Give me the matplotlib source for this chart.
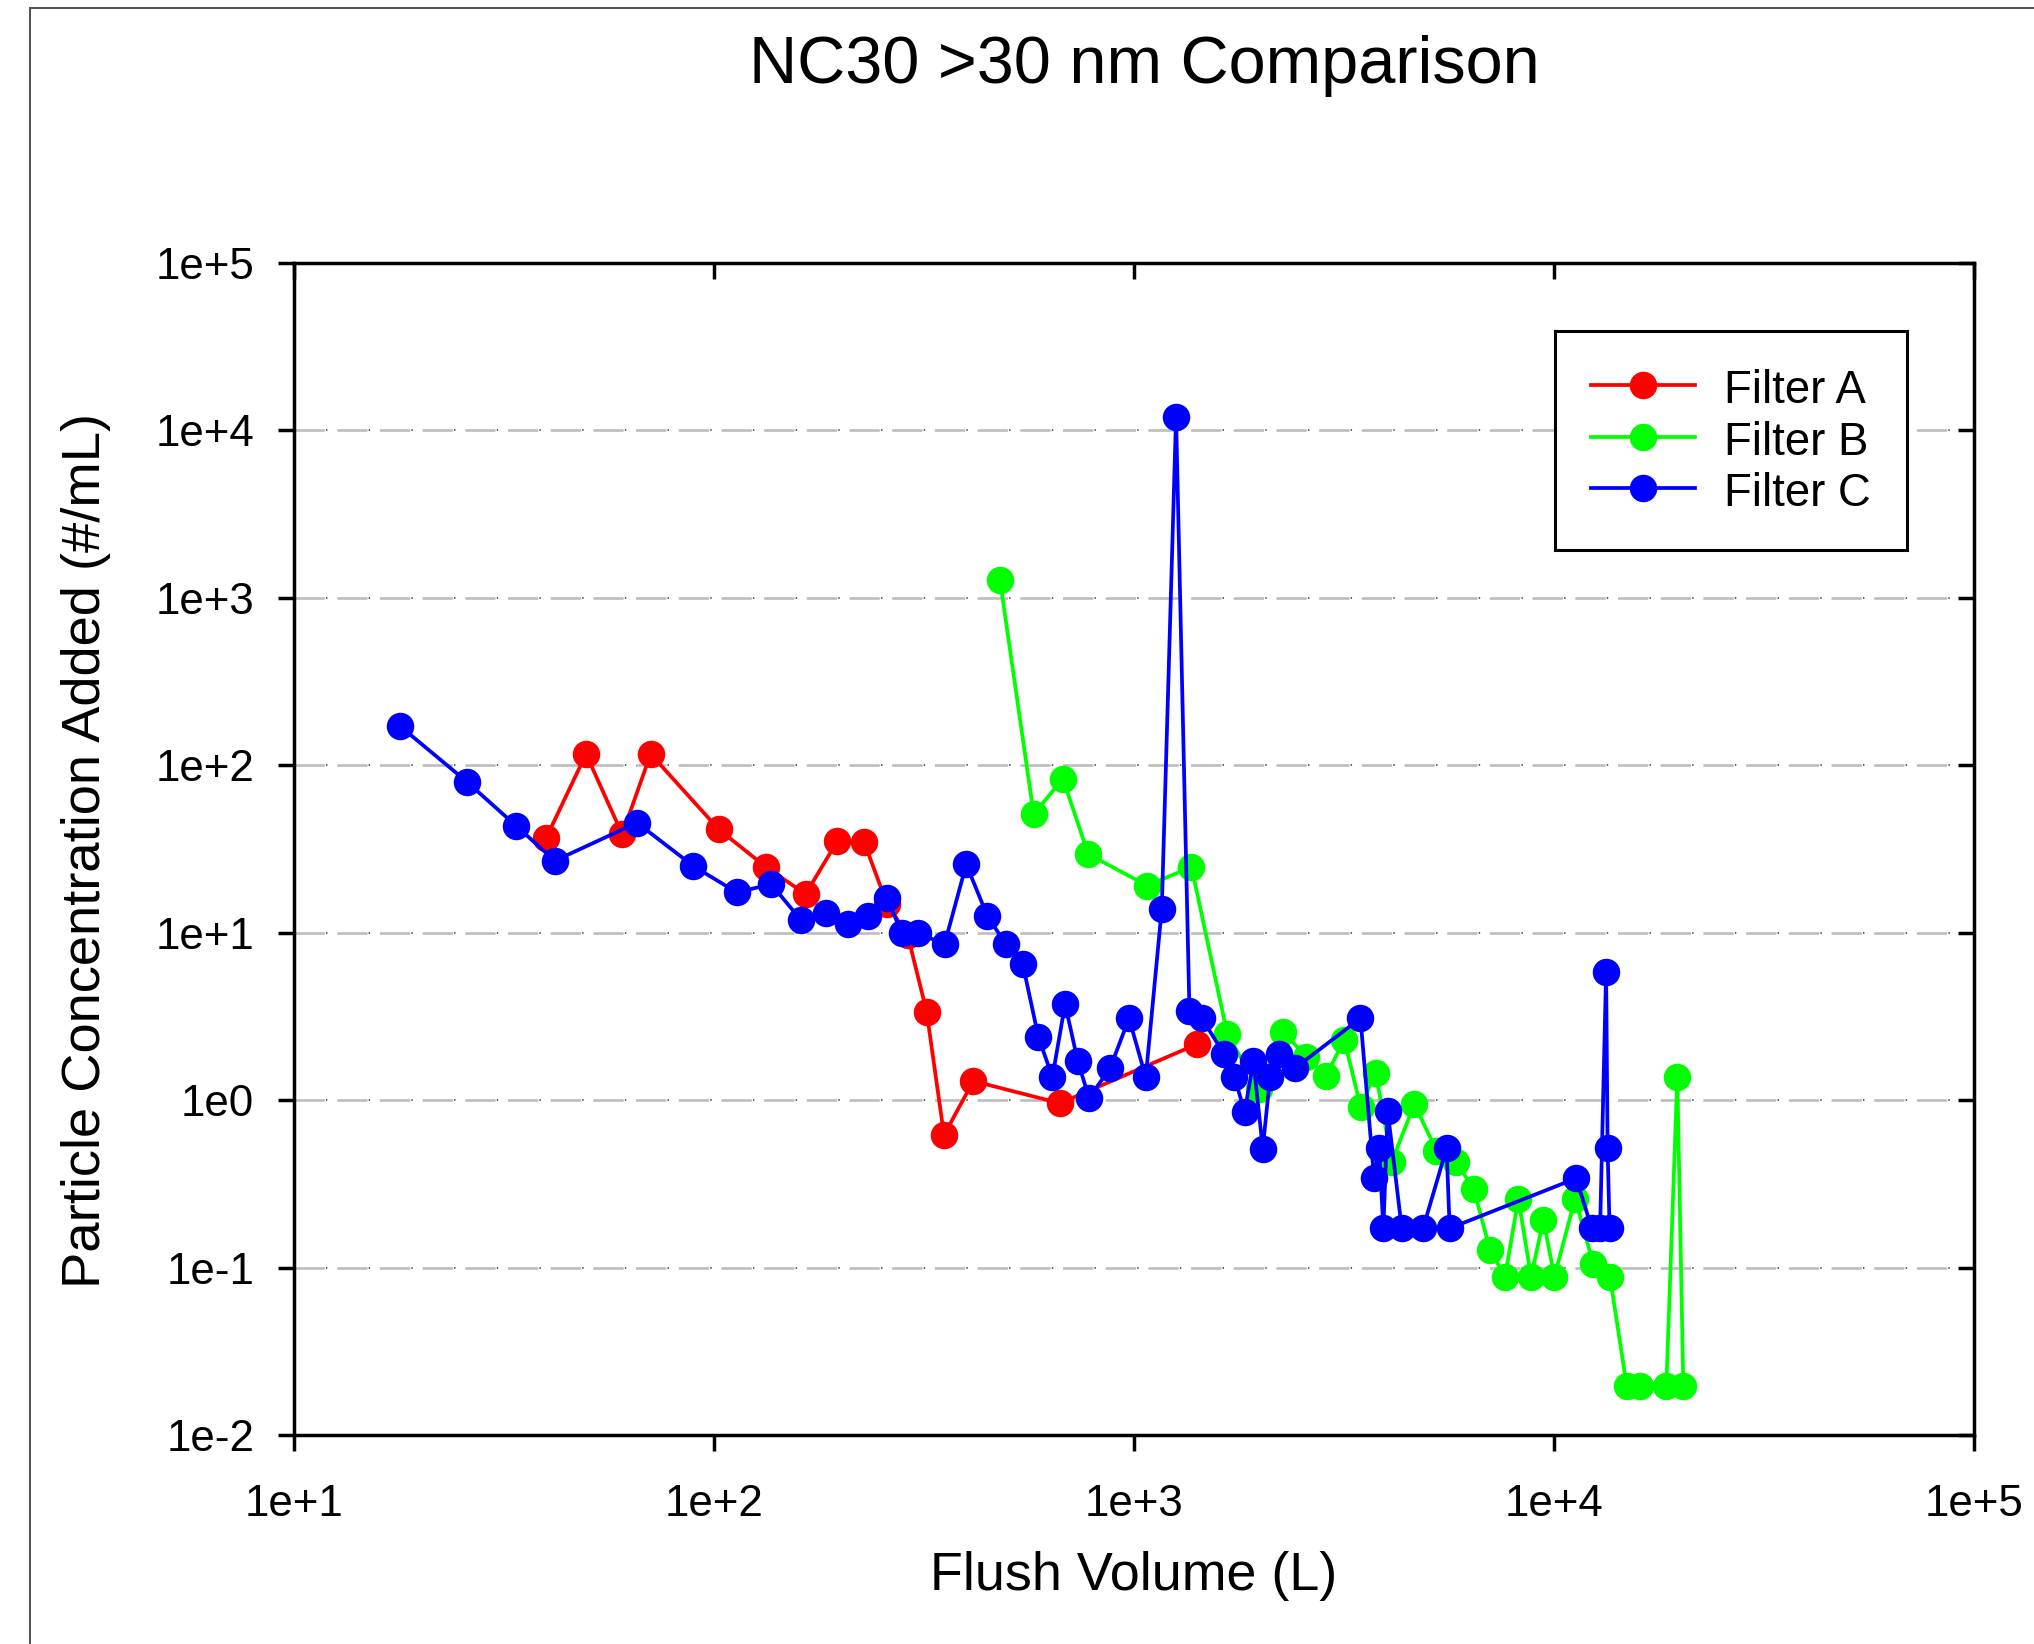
import matplotlib
matplotlib.use("Agg")
import matplotlib.pyplot as plt
from matplotlib.lines import Line2D
from matplotlib.ticker import NullLocator

plt.rcParams["font.family"] = ["Liberation Sans", "DejaVu Sans"]
plt.rcParams["lines.scale_dashes"] = False

# flush volume (L) vs particle concentration added (#/mL), one pair per filter
filter_a_vol = [39.9, 49.7, 60.6, 70.8, 102.8, 133.4, 165.6, 197, 228.2, 258.8,
                289.6, 321.4, 353.5, 415.1, 667.5, 1417]
filter_a_conc = [36.6, 116.8, 38.7, 116.8, 41.5, 24.6, 17.0, 35.3, 34.7, 14.8,
                 9.7, 3.37, 0.619, 1.30, 0.958, 2.165]

filter_b_vol = [480.5, 577.8, 678.2, 779.3, 1076, 1372, 1670, 1982, 2271, 2572,
                2870, 3170, 3466, 3764, 4114, 4656, 5253, 5834, 6442, 7050,
                7652, 8231, 8825, 9441, 10030, 11232, 12424, 13600, 14905, 16030,
                18520, 19670, 20330]
filter_b_conc = [1273, 51.0, 83.1, 29.5, 19.1, 24.7, 2.48, 1.17, 2.56, 1.82,
                 1.39, 2.30, 0.914, 1.46, 0.430, 0.947, 0.500, 0.430, 0.296, 0.127,
                 0.0882, 0.258, 0.0882, 0.192, 0.0882, 0.258, 0.1046, 0.0882, 0.0196, 0.0196,
                 0.0196, 1.369, 0.0196]

filter_c_vol = [17.88, 25.85, 33.9, 41.9, 65.7, 89.5, 113.6, 137.1, 161.4, 185,
                209.3, 233.2, 258, 281.2, 306.7, 354.6, 399.3, 448.3, 495.7, 544.2,
                592.8, 640.3, 686.4, 735.7, 782.8, 878.2, 974.5, 1068, 1166, 1261,
                1357, 1452, 1640, 1736, 1837, 1927, 2028, 2111, 2215, 2417,
                3465, 3733, 3837, 3928, 4023, 4344, 4883, 5554, 5649, 11295,
                12312, 12883, 13314, 13424, 13570]
filter_c_conc = [172.4, 79.8, 43.4, 26.9, 45.4, 25.0, 17.4, 19.5, 11.9, 13.2,
                 11.3, 12.6, 16.1, 9.92, 9.92, 8.56, 25.6, 12.6, 8.56, 6.50,
                 2.39, 1.37, 3.75, 1.71, 1.03, 1.55, 3.08, 1.37, 13.9, 12100,
                 3.42, 3.08, 1.89, 1.37, 0.853, 1.71, 0.514, 1.38, 1.89, 1.55,
                 3.08, 0.341, 0.516, 0.1716, 0.858, 0.1716, 0.1716, 0.516, 0.1716, 0.341,
                 0.1716, 0.1716, 5.80, 0.516, 0.1716]

series_labels = ["Filter A", "Filter B", "Filter C"]
series_colors = ["#ff0000", "#00ff00", "#0000ff"]

x_ticks = [1e1, 1e2, 1e3, 1e4, 1e5]
x_tick_labels = ["1e+1", "1e+2", "1e+3", "1e+4", "1e+5"]
y_ticks = [1e-2, 1e-1, 1e0, 1e1, 1e2, 1e3, 1e4, 1e5]
y_tick_labels = ["1e-2", "1e-1", "1e0", "1e+1", "1e+2", "1e+3", "1e+4", "1e+5"]

W, H, DPI = 2034, 1644, 200
fig = plt.figure(figsize=(W / DPI, H / DPI), dpi=DPI)
ax = fig.add_axes([293.5 / W, 1 - 1435 / H, (1974 - 293.5) / W, (1435 - 263) / H])

for vol, conc, color, label in zip(
        [filter_a_vol, filter_b_vol, filter_c_vol],
        [filter_a_conc, filter_b_conc, filter_c_conc],
        series_colors, series_labels):
    ax.plot(vol, conc, "-o", color=color, lw=1.35, ms=9.9, mew=0,
            label=label, zorder=3)

ax.set_xscale("log")
ax.set_yscale("log")
ax.set_xlim(x_ticks[0], x_ticks[-1])
ax.set_ylim(y_ticks[0], y_ticks[-1])
ax.set_xticks(x_ticks)
ax.set_xticklabels(x_tick_labels)
ax.set_yticks(y_ticks)
ax.set_yticklabels(y_tick_labels)
ax.xaxis.set_minor_locator(NullLocator())
ax.yaxis.set_minor_locator(NullLocator())
ax.tick_params(direction="out", length=5.8, width=1.25, labelsize=15.8,
               top=False, right=False)
ax.tick_params(axis="x", pad=12.0)
ax.tick_params(axis="y", pad=8.3)
for s in ax.spines.values():
    s.set_linewidth(1.25)

# dashed horizontal grid with a small dot after each dash
ax.set_axisbelow(True)
ax.yaxis.grid(True, color="#bdbdbd", lw=0.95, linestyle=(0, (10.9, 4.47)))
for yv in y_ticks[1:-1]:
    ax.axhline(yv, color="#3a6a5a", lw=0.7, linestyle=(3.85, (0.5, 14.87)), zorder=1)

# inward ticks on top and right
axt = ax.twiny()
axt.set_xscale("log")
axt.set_xlim(ax.get_xlim())
axt.set_xticks(x_ticks)
axt.xaxis.set_minor_locator(NullLocator())
axt.tick_params(axis="x", direction="in", length=5.8, width=1.25,
                top=True, labeltop=False, bottom=False, labelbottom=False)
axr = ax.twinx()
axr.set_yscale("log")
axr.set_ylim(ax.get_ylim())
axr.set_yticks(y_ticks)
axr.yaxis.set_minor_locator(NullLocator())
axr.tick_params(axis="y", direction="in", length=5.8, width=1.25,
                right=True, labelright=False, left=False, labelleft=False)
for a in (axt, axr):
    for s in a.spines.values():
        s.set_visible(False)

leg = ax.legend(loc="upper right", bbox_to_anchor=(1907 / W, 1 - 331 / H),
                bbox_transform=fig.transFigure, fontsize=16.4, fancybox=False,
                framealpha=1, edgecolor="black", borderpad=0.8,
                handlelength=2.28, handletextpad=0.63, labelspacing=0.16,
                borderaxespad=0)
leg.get_frame().set_linewidth(1.1)
for t in leg.get_texts():
    t.set_y(-2)

fig.text(1144 / W, 1 - 83 / H, "NC30 >30 nm Comparison", fontsize=24,
         ha="center", va="baseline")
fig.text(1134 / W, 1 - 1590 / H, "Flush Volume (L)", fontsize=19.4,
         ha="center", va="baseline")
fig.text(100 / W, 1 - 851 / H, "Particle Concentration Added (#/mL)", fontsize=19.6,
         rotation=90, rotation_mode="anchor", ha="center", va="baseline")

# thin outer border along the top and left edge
fig.add_artist(Line2D([30 / W, 30 / W], [0, 1 - 8.3 / H], color="#505050", lw=0.7))
fig.add_artist(Line2D([30 / W, 1], [1 - 8.3 / H, 1 - 8.3 / H], color="#505050", lw=0.7))

fig.savefig("out.png", dpi=DPI)
